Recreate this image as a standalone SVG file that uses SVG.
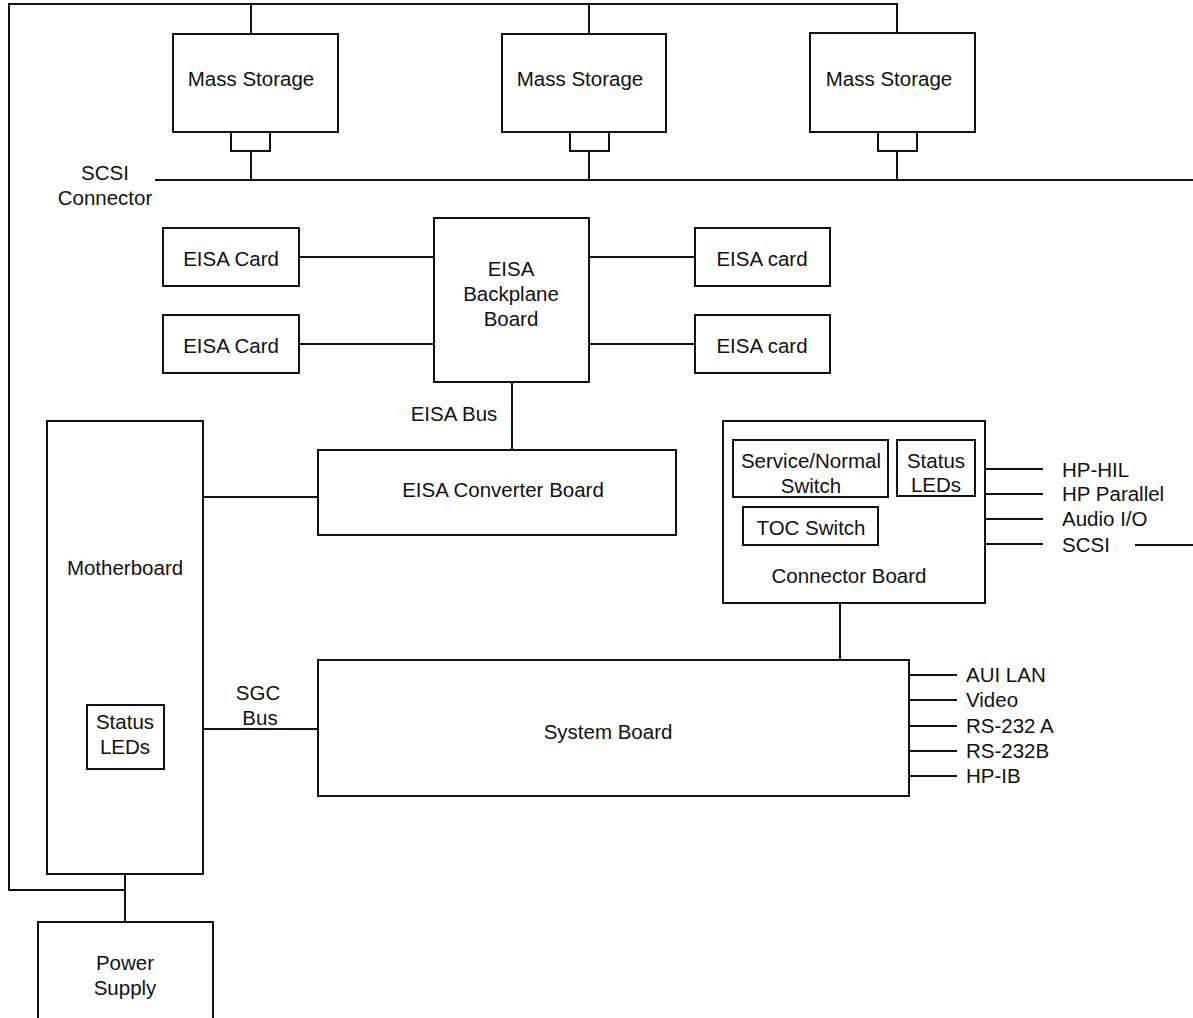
<svg xmlns="http://www.w3.org/2000/svg" width="1193" height="1018" viewBox="0 0 1193 1018">
<style>
.b{fill:#fff;stroke:#111;stroke-width:2}
.l{fill:none;stroke:#111;stroke-width:2}
text{font-family:"Liberation Sans",Arial,sans-serif;font-size:20.5px;fill:#111}
.c{text-anchor:middle}
</style>
<rect width="1193" height="1018" fill="#fff"/>
<g id="connectors">
<polyline class="l" points="125,890 9,890 9,4 897,4 897,33"/>
<line class="l" x1="251" y1="4" x2="251" y2="34"/>
<line class="l" x1="589" y1="4" x2="589" y2="34"/>
<line class="l" x1="155" y1="180" x2="1193" y2="180"/>
<line class="l" x1="251" y1="151" x2="251" y2="180"/>
<line class="l" x1="589" y1="151" x2="589" y2="180"/>
<line class="l" x1="897" y1="151" x2="897" y2="180"/>
<line class="l" x1="299" y1="257" x2="434" y2="257"/>
<line class="l" x1="299" y1="344" x2="434" y2="344"/>
<line class="l" x1="589" y1="257" x2="695" y2="257"/>
<line class="l" x1="589" y1="344" x2="695" y2="344"/>
<line class="l" x1="512" y1="382" x2="512" y2="450"/>
<line class="l" x1="203" y1="497" x2="318" y2="497"/>
<line class="l" x1="164" y1="729" x2="318" y2="729"/>
<line class="l" x1="840" y1="603" x2="840" y2="660"/>
<line class="l" x1="985" y1="469" x2="1043" y2="469"/>
<line class="l" x1="985" y1="494" x2="1043" y2="494"/>
<line class="l" x1="985" y1="519" x2="1043" y2="519"/>
<line class="l" x1="985" y1="544" x2="1043" y2="544"/>
<line class="l" x1="1135" y1="545" x2="1193" y2="545"/>
<line class="l" x1="909" y1="675" x2="957" y2="675"/>
<line class="l" x1="909" y1="700" x2="957" y2="700"/>
<line class="l" x1="909" y1="726" x2="957" y2="726"/>
<line class="l" x1="909" y1="751" x2="957" y2="751"/>
<line class="l" x1="909" y1="776" x2="957" y2="776"/>
<line class="l" x1="125" y1="874" x2="125" y2="922"/>
</g>
<g id="ms1"><rect class="b" x="173" y="34" width="165" height="98"/><rect class="b" x="231" y="132" width="39" height="19"/><text class="c" x="251" y="86">Mass Storage</text></g>
<g id="ms2"><rect class="b" x="502" y="34" width="164" height="98"/><rect class="b" x="570" y="132" width="39" height="19"/><text class="c" x="580" y="86">Mass Storage</text></g>
<g id="ms3"><rect class="b" x="810" y="33" width="165" height="99"/><rect class="b" x="878" y="132" width="39" height="19"/><text class="c" x="889" y="86">Mass Storage</text></g>
<g id="scsi-label"><text class="c" x="105" y="180">SCSI</text><text class="c" x="105" y="205">Connector</text></g>
<g id="eisa1"><rect class="b" x="163" y="228" width="136" height="58"/><text class="c" x="231" y="266">EISA Card</text></g>
<g id="eisa2"><rect class="b" x="163" y="315" width="136" height="58"/><text class="c" x="231" y="353">EISA Card</text></g>
<g id="eisa3"><rect class="b" x="695" y="228" width="135" height="58"/><text class="c" x="762" y="266">EISA card</text></g>
<g id="eisa4"><rect class="b" x="695" y="315" width="135" height="58"/><text class="c" x="762" y="353">EISA card</text></g>
<g id="backplane"><rect class="b" x="434" y="218" width="155" height="164"/><text class="c" x="511" y="276">EISA</text><text class="c" x="511" y="301">Backplane</text><text class="c" x="511" y="326">Board</text></g>
<g id="eisabus-label"><text class="c" x="454" y="421">EISA Bus</text></g>
<g id="converter"><rect class="b" x="318" y="450" width="358" height="85"/><text class="c" x="503" y="497">EISA Converter Board</text></g>
<g id="motherboard"><rect class="b" x="47" y="421" width="156" height="453"/><text class="c" x="125" y="575">Motherboard</text><rect class="b" x="87" y="705" width="77" height="64"/><text class="c" x="125" y="729">Status</text><text class="c" x="125" y="754">LEDs</text></g>
<g id="sgc-label"><text class="c" x="258" y="700">SGC</text><text class="c" x="260" y="725">Bus</text></g>
<g id="connector-board"><rect class="b" x="723" y="421" width="262" height="182"/><rect class="b" x="733" y="440" width="155" height="57"/><text class="c" x="811" y="468">Service/Normal</text><text class="c" x="811" y="493">Switch</text><rect class="b" x="897" y="440" width="78" height="56"/><text class="c" x="936" y="468">Status</text><text class="c" x="936" y="492">LEDs</text><rect class="b" x="743" y="507" width="135" height="38"/><text class="c" x="811" y="535">TOC Switch</text><text class="c" x="849" y="583">Connector Board</text></g>
<g id="conn-labels"><text x="1062" y="477">HP-HIL</text><text x="1062" y="501">HP Parallel</text><text x="1062" y="526">Audio I/O</text><text x="1062" y="552">SCSI</text></g>
<g id="system-board"><rect class="b" x="318" y="660" width="591" height="136"/><text class="c" x="608" y="739">System Board</text></g>
<g id="sys-labels"><text x="966" y="682">AUI LAN</text><text x="966" y="707">Video</text><text x="966" y="733">RS-232 A</text><text x="966" y="758">RS-232B</text><text x="966" y="783">HP-IB</text></g>
<g id="power"><rect class="b" x="38" y="922" width="175" height="100"/><text class="c" x="125" y="970">Power</text><text class="c" x="125" y="995">Supply</text></g>
</svg>
